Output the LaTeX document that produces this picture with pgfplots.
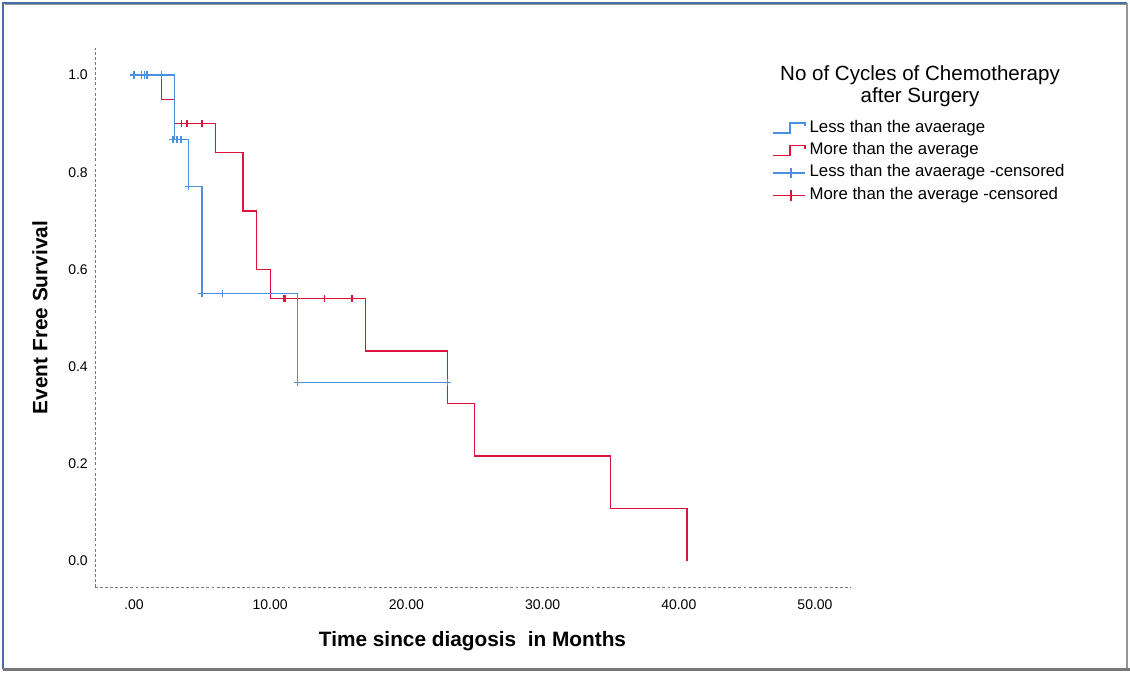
\documentclass[border=0pt]{standalone}
\usepackage{fontspec}
\setmainfont{Liberation Sans}
\usepackage{pgfplots}
\pgfplotsset{compat=1.18}
\definecolor{kmblue}{RGB}{74,144,226}
\definecolor{kmred}{RGB}{220,20,60}
\definecolor{axgray}{RGB}{120,120,120}
\definecolor{framblue}{RGB}{70,110,170}
\definecolor{framgray}{RGB}{150,150,150}
\newcommand\tickfont{\fontsize{10.5}{12}\selectfont}
\newcommand\labfont{\fontsize{15.6}{18}\selectfont\bfseries}
\newcommand\legfont{\fontsize{12.6}{14}\selectfont}
\newcommand\titfont{\fontsize{15.4}{16.5}\selectfont}
\pgfplotsset{
  stepblue/.style={legend image code/.code={\draw[kmblue, line width=1pt] (0pt,-3.5pt) -- (12.75pt,-3.5pt) -- (12.75pt,4pt) -- (24pt,4pt) -- (24pt,1.5pt);}},
  stepred/.style={legend image code/.code={\draw[kmred, line width=1pt] (0pt,-3.5pt) -- (12.75pt,-3.5pt) -- (12.75pt,4pt) -- (24pt,4pt) -- (24pt,1.5pt);}},
  censblue/.style={legend image code/.code={\draw[kmblue, line width=1pt] (0pt,0pt) -- (24pt,0pt); \draw[kmblue, line width=1pt] (13.5pt,-4pt) -- (13.5pt,4pt);}},
  censred/.style={legend image code/.code={\draw[kmred, line width=1pt] (0pt,0pt) -- (24pt,0pt); \draw[kmred, line width=1pt] (13.5pt,-4pt) -- (13.5pt,4pt);}},
}
\begin{document}
\begin{tikzpicture}
\path[use as bounding box] (0,0) rectangle (847.5pt,504pt);
% window frame
\draw[framblue, line width=1.5pt] (2.25pt,2pt) -- (2.25pt,501.75pt) -- (845.25pt,501.75pt);
\draw[framgray, line width=0.8pt] (3.6pt,500.3pt) -- (845.25pt,500.3pt);
\draw[framgray, line width=0.8pt] (845.25pt,501.75pt) -- (845.25pt,2pt);
\draw[framgray!80!black, line width=2.2pt] (2.25pt,1.6pt) -- (847.5pt,1.6pt);
% legend title
\node[align=center, font=\titfont, inner sep=0pt] at (690pt,439.5pt) {No of Cycles of Chemotherapy\\after Surgery};
\begin{axis}[
  at={(71.25pt,63.75pt)}, anchor=south west,
  scale only axis, width=566.25pt, height=404.25pt,
  xmin=-2.86, xmax=52.57, ymin=-0.0535, ymax=1.0556,
  axis lines=left,
  axis line style={-, draw=axgray, line width=0.6pt, dash pattern=on 2.2pt off 1.6pt},
  major tick length=0pt,
  xtick={0,10,20,30,40,50},
  xticklabels={\mbox{.00},\mbox{10.00},\mbox{20.00},\mbox{30.00},\mbox{40.00},\mbox{50.00}},
  ytick={0,0.2,0.4,0.6,0.8,1.0},
  yticklabels={\mbox{0.0},\mbox{0.2},\mbox{0.4},\mbox{0.6},\mbox{0.8},\mbox{1.0}},
  tick label style={font=\tickfont, inner sep=0pt},
  xticklabel style={anchor=north, yshift=-9pt},
  yticklabel style={anchor=east, xshift=-5.25pt},
  xlabel={Time since diagosis\ \ in Months},
  ylabel={Event Free Survival},
  label style={font=\labfont},
  xlabel style={at={(axis description cs:0.5,-0.100)}, anchor=center},
  ylabel style={at={(axis description cs:-0.0728,0.5)}, anchor=center},
  legend cell align=left,
  legend style={draw=none, fill=none, at={(axis description cs:0.8967,0.8664)}, anchor=north west,
    inner sep=0pt, row sep=4.75pt, column sep=3pt, font=\legfont,
    nodes={inner sep=0pt, text height=9pt, text depth=3pt}},
  clip=false,
]
% step curves
\addplot[kmred, line width=1pt, const plot, forget plot] coordinates {
  (0,1) (2,0.95) (3,0.90) (6,0.84) (8,0.72) (9,0.60) (10,0.54) (17,0.432) (23,0.324) (25,0.216) (35,0.108) (40.6,0)};
\addplot[kmblue, line width=1pt, const plot, forget plot] coordinates {
  (0,1) (3,0.867) (4,0.770) (5,0.550) (12,0.367) (23.3,0.367)};
% censored marks
\addplot[kmblue, only marks, mark=+, mark size=2.7pt, mark options={line width=1pt}, forget plot] coordinates {
  (0,1) (0.55,1) (0.75,1) (0.95,1) (2.0,1) (2.86,0.867) (3.16,0.867) (3.45,0.867) (4.0,0.770) (5.0,0.550) (6.5,0.550) (12.0,0.367) (23.0,0.367)};
\addplot[kmred, only marks, mark=+, mark size=2.7pt, mark options={line width=1pt}, forget plot] coordinates {
  (3.5,0.90) (3.9,0.90) (5.0,0.90) (11.0,0.54) (11.1,0.54) (14.0,0.54) (16.0,0.54)};
% legend
\addlegendimage{stepblue}
\addlegendentry{Less than the avaerage}
\addlegendimage{stepred}
\addlegendentry{More than the average}
\addlegendimage{censblue}
\addlegendentry{Less than the avaerage -censored}
\addlegendimage{censred}
\addlegendentry{More than the average -censored}
\end{axis}
\end{tikzpicture}
\end{document}
